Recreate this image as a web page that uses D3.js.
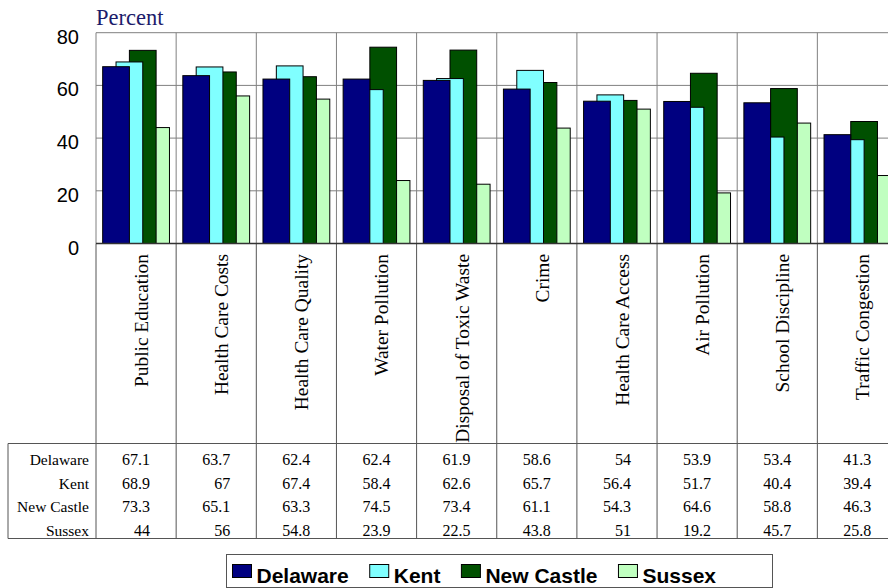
<!DOCTYPE html>
<html>
<head>
<meta charset="utf-8">
<script src="https://cdn.jsdelivr.net/npm/d3@7"></script>
<style>
  body { margin: 0; background: #fff; }
  svg { display: block; }
</style>
</head>
<body>
<svg id="chart" width="888" height="588"></svg>
<script>
const categories = ["Public Education", "Health Care Costs", "Health Care Quality", "Water Pollution",
  "Disposal of Toxic Waste", "Crime", "Health Care Access", "Air Pollution", "School Discipline", "Traffic Congestion"];
const seriesNames = ["Delaware", "Kent", "New Castle", "Sussex"];
const delaware = [67.1, 63.7, 62.4, 62.4, 61.9, 58.6, 54, 53.9, 53.4, 41.3];
const kent = [68.9, 67, 67.4, 58.4, 62.6, 65.7, 56.4, 51.7, 40.4, 39.4];
const newCastle = [73.3, 65.1, 63.3, 74.5, 73.4, 61.1, 54.3, 64.6, 58.8, 46.3];
const sussex = [44, 56, 54.8, 23.9, 22.5, 43.8, 51, 19.2, 45.7, 25.8];
const yTicks = [0, 20, 40, 60, 80];

const series = [delaware, kent, newCastle, sussex];
const colors = ["#000080", "#80ffff", "#005000", "#c0ffc0"];

const svg = d3.select("#chart");

const x = d3.scaleBand().domain(categories).range([96, 96 + 80.15 * 10]);
const y = d3.scaleLinear().domain([0, 80]).range([243.5, 32.7]);
const bw = x.bandwidth();

const labelTop = 243.5, tableTop = 443.5, tableBottom = 538.5;
const rowY = [465, 488.5, 512, 535.5];

// gridlines
yTicks.filter(t => t > 0).forEach(t => {
  svg.append("line")
    .attr("x1", 96).attr("x2", 888)
    .attr("y1", y(t)).attr("y2", y(t))
    .attr("stroke", "#808080").attr("stroke-width", 1)
});

// category separators in plot
categories.forEach(c => {
  svg.append("line")
    .attr("x1", x(c)).attr("x2", x(c))
    .attr("y1", y(80)).attr("y2", labelTop)
    .attr("stroke", "#808080")
  svg.append("line")
    .attr("x1", x(c)).attr("x2", x(c))
    .attr("y1", labelTop).attr("y2", tableBottom)
    .attr("stroke", "#555")
});
svg.append("line")
  .attr("x1", x(categories[categories.length - 1]) + bw).attr("x2", x(categories[categories.length - 1]) + bw)
  .attr("y1", y(80)).attr("y2", tableBottom)
  .attr("stroke", "#555");

// bars, last series drawn first
for (let s = series.length - 1; s >= 0; s--) {
  svg.append("g").selectAll("rect")
    .data(series[s])
    .join("rect")
    .attr("x", (d, i) => x(categories[i]) + bw / 12 + s * bw / 6)
    .attr("width", bw / 3)
    .attr("y", d => y(d))
    .attr("height", d => y(0) - y(d))
    .attr("fill", colors[s])
    .attr("stroke", "#000")
    .attr("stroke-width", 1)
}

// zero line
svg.append("line")
  .attr("x1", 96).attr("x2", 888)
  .attr("y1", y(0)).attr("y2", y(0))
  .attr("stroke", "#333").attr("stroke-width", 1.5);

// y axis labels
svg.append("g").selectAll("text")
  .data(yTicks)
  .join("text")
  .attr("x", 79)
  .attr("y", d => y(d) + 11)
  .attr("text-anchor", "end")
  .attr("font-family", "Liberation Sans, Arial, sans-serif")
  .attr("font-size", 20)
  .attr("fill", "#000")
  .text(d => d);

svg.append("text")
  .attr("x", 96).attr("y", 24.5)
  .attr("font-family", "Liberation Serif, Times New Roman, serif")
  .attr("font-size", 22.5)
  .attr("fill", "#1c1c6b")
  .text("Percent");

// category labels
svg.append("g").selectAll("text")
  .data(categories)
  .join("text")
  .attr("transform", d => `translate(${x(d) + 52},254) rotate(-90)`)
  .attr("text-anchor", "end")
  .attr("font-family", "Liberation Serif, Times New Roman, serif")
  .attr("font-size", 19.4)
  .attr("fill", "#000")
  .text(d => d);

// data table
svg.append("line").attr("x1", 8).attr("x2", 888).attr("y1", tableTop).attr("y2", tableTop).attr("stroke", "#555");
svg.append("line").attr("x1", 8).attr("x2", 888).attr("y1", tableBottom).attr("y2", tableBottom).attr("stroke", "#555");
svg.append("line").attr("x1", 8).attr("x2", 8).attr("y1", tableTop).attr("y2", tableBottom).attr("stroke", "#555");

seriesNames.forEach((name, s) => {
  svg.append("text")
    .attr("x", 89).attr("y", rowY[s])
    .attr("text-anchor", "end")
    .attr("font-family", "Liberation Serif, Times New Roman, serif")
    .attr("font-size", 15.5)
    .text(name);
  svg.append("g").selectAll("text")
    .data(series[s])
    .join("text")
    .attr("x", (d, i) => x(categories[i]) + 54)
    .attr("y", rowY[s])
    .attr("text-anchor", "end")
    .attr("font-family", "Liberation Serif, Times New Roman, serif")
    .attr("font-size", 16)
    .text(d => d);
});

// legend
const legend = svg.append("g");
legend.append("rect")
  .attr("x", 226.5).attr("y", 554.5)
  .attr("width", 546).attr("height", 33)
  .attr("fill", "#fff").attr("stroke", "#555");
let lx = 232.5;
seriesNames.forEach((name, s) => {
  legend.append("rect")
    .attr("x", lx).attr("y", 564.5)
    .attr("width", 19).attr("height", 13)
    .attr("fill", colors[s]).attr("stroke", "#000");
  const t = legend.append("text")
    .attr("x", lx + 24).attr("y", 583)
    .attr("font-family", "Liberation Sans, Arial, sans-serif")
    .attr("font-weight", "bold")
    .attr("font-size", 21)
    .text(name);
  lx += 24 + t.node().getComputedTextLength() + 21;
});
</script>
</body>
</html>
